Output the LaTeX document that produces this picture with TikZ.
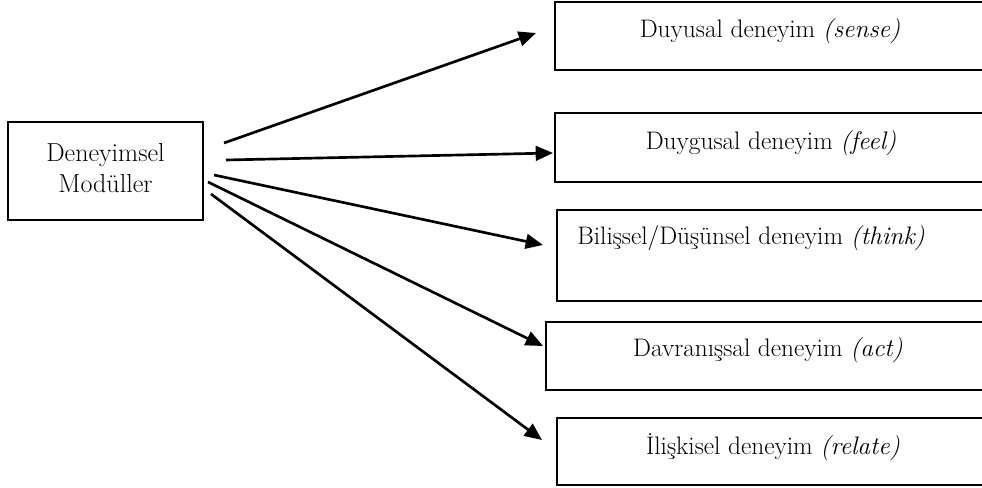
\documentclass[tikz,border=0pt]{standalone}
\usepackage{tikz}
\usetikzlibrary{arrows.meta}
\tikzset{expbox/.style={draw, line width=1.3pt, rectangle, outer sep=0pt, anchor=north west},
 lbl/.style={font=\fontsize{19}{22}\selectfont, inner sep=0pt},
 arr/.style={line width=2pt, -{Triangle[length=13pt,width=11pt]}},
 }

\begin{document}
\begin{tikzpicture}[x=0.75pt, y=-0.75pt]
        \useasboundingbox (0,0) rectangle (982,488);

        % left box
        \node[expbox, minimum width=146.25pt, minimum height=73.5pt] (mod) at (8,122) {};
        \node[lbl, align=center, font=\fontsize{19.5}{23.5}\selectfont] (modtxt) at (105.5,168) {Deneyimsel\\Modüller};

        % right boxes (cut off by the page edge)
        \node[expbox, minimum width=324pt, minimum height=51pt] (sense) at (555,2) {};
        \node[expbox, minimum width=324pt, minimum height=51.75pt] (feel) at (555,113) {};
        \node[expbox, minimum width=322.5pt, minimum height=68.25pt] (think) at (557,210) {};
        \node[expbox, minimum width=330.75pt, minimum height=51pt] (act) at (546,322) {};
        \node[expbox, minimum width=322.5pt, minimum height=50.25pt] (relate) at (557,418) {};

        \node[lbl] (sensetxt) at (770,31) {Duyusal deneyim \textit{(sense)}};
        \node[lbl] (feeltxt) at (771,143) {Duygusal deneyim \textit{(feel)}};
        \node[lbl, anchor=west] (thinktxt) at (577,238) {Bilişsel/Düşünsel deneyim \textit{(think)}};
        \node[lbl] (acttxt) at (768,350) {Davranışsal deneyim \textit{(act)}};
        \node[lbl] (relatetxt) at (773,447) {İlişkisel deneyim \textit{(relate)}};

        % arrow ends
        \coordinate (s1) at (224,143);
        \coordinate (s2) at (226,160);
        \coordinate (s3) at (214,175);
        \coordinate (s4) at (208,182);
        \coordinate (s5) at (211,194);
        \coordinate (t1) at (536,33);
        \coordinate (t2) at (553,153);
        \coordinate (t3) at (543,245);
        \coordinate (t4) at (543,346);
        \coordinate (t5) at (542,440);

        \foreach \i in {1,...,5} {
            \draw[arr] (s\i) -- (t\i);
        }
    \end{tikzpicture}
\end{document}
